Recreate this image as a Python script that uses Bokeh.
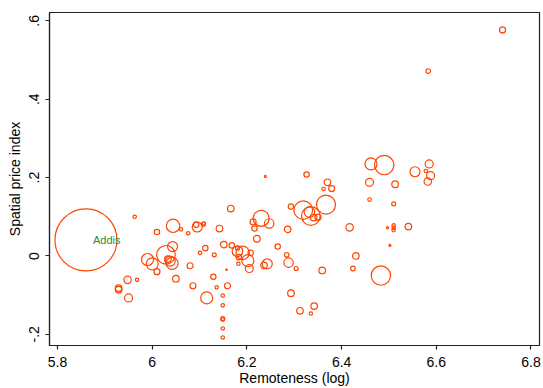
import numpy as np
from bokeh.plotting import figure
from bokeh.models import ColumnDataSource, FixedTicker, Range1d
from bokeh.core.properties import value
from bokeh.embed import file_html
from bokeh.resources import INLINE

# Data
remoteness = [5.860, 6.740, 6.583, 5.963, 6.462, 6.490, 6.459, 6.459, 6.513, 6.555,
              6.585, 6.578, 6.588, 6.582, 6.510, 6.541, 6.497, 6.510, 6.510, 6.510,
              6.502, 6.417, 6.430, 6.424, 6.483, 6.359, 6.326, 6.370, 6.379, 6.362,
              6.367, 6.319, 6.335, 6.332, 6.341, 6.350, 6.293, 6.286, 6.265, 6.284,
              6.288, 6.304, 6.293, 6.312, 6.342, 6.335, 6.239, 6.230, 6.247, 6.213,
              6.216, 6.221, 6.166, 6.142, 6.151, 6.168, 6.180, 6.180, 6.191, 6.208,
              6.202, 6.205, 6.183, 6.182, 6.243, 6.236, 6.157, 6.159, 6.129, 6.136,
              6.115, 6.149, 6.149, 6.149, 6.149, 6.149, 6.149, 6.131, 6.112, 6.101,
              6.095, 6.093, 6.108, 6.109, 6.076, 6.061, 6.044, 6.010, 6.043, 6.029,
              6.033, 6.038, 6.042, 5.990, 6.000, 6.010, 6.050, 6.080, 6.086, 5.948,
              5.968, 5.929, 5.929, 5.950]
price_index = [0.041, 0.577, 0.472, 0.100, 0.235, 0.232, 0.188, 0.144, 0.183, 0.215,
               0.235, 0.217, 0.205, 0.190, 0.133, 0.075, 0.072, 0.078, 0.072, 0.066,
               0.027, 0.073, 0.000, -0.032, -0.050, -0.037, 0.208, 0.188, 0.172, 0.171,
               0.131, 0.117, 0.102, 0.112, 0.098, 0.099, 0.126, 0.068, 0.024, 0.003,
               -0.017, -0.032, -0.095, -0.140, -0.128, -0.147, 0.203, 0.096, 0.083, 0.087,
               0.070, 0.044, 0.121, 0.070, 0.029, 0.027, 0.020, 0.012, 0.008, 0.008,
               -0.012, -0.032, -0.003, -0.020, -0.020, -0.024, -0.035, -0.076, -0.053, -0.080,
               -0.107, -0.101, -0.126, -0.160, -0.162, -0.185, -0.208, 0.003, 0.020, 0.008,
               0.074, 0.080, 0.081, 0.083, 0.058, 0.068, 0.077, 0.061, 0.024, 0.003,
               -0.008, -0.013, -0.019, -0.009, -0.020, -0.040, -0.058, -0.025, -0.076, -0.061,
               -0.061, -0.082, -0.086, -0.107]
weight = [9610, 90, 53, 29, 360, 941, 160, 32, 109, 250,
          160, 29, 160, 137, 40, 109, 12, 29, 29, 29,
          10, 137, 109, 53, 941, 109, 73, 109, 90, 29,
          903, 865, 865, 281, 109, 90, 73, 109, 73, 53,
          221, 40, 109, 109, 109, 29, 10, 640, 221, 90,
          73, 109, 109, 109, 109, 73, 40, 281, 449, 73,
          360, 160, 73, 29, 250, 109, 5, 90, 73, 29,
          360, 29, 29, 40, 29, 29, 29, 40, 73, 29,
          250, 73, 40, 29, 29, 29, 449, 73, 250, 865,
          109, 250, 360, 360, 360, 90, 109, 90, 90, 137,
          29, 109, 109, 160]
labels = ["Addis"] + [""] * (len(remoteness) - 1)

x_ticks = [5.8, 6.0, 6.2, 6.4, 6.6, 6.8]
x_tick_labels = ["5.8", "6", "6.2", "6.4", "6.6", "6.8"]
y_ticks = [-0.2, 0.0, 0.2, 0.4, 0.6]
y_tick_labels = ["-.2", "0", ".2", ".4", ".6"]

diam = [2 * np.sqrt(w / 10.0) for w in weight]
src = ColumnDataSource(dict(x=remoteness, y=price_index, d=diam, lab=labels))

p = figure(width=543, height=388, output_backend="svg", toolbar_location=None,
           x_range=Range1d(5.783, 6.818), y_range=Range1d(-0.2285, 0.6214),
           min_border_left=49, min_border_right=4, min_border_top=12, min_border_bottom=39)
p.background_fill_color = "white"
p.border_fill_color = "white"
p.outline_line_color = "#222222"
p.outline_line_width = 1.2
p.xgrid.visible = False
p.ygrid.visible = False

p.scatter("x", "y", size="d", source=src, marker="circle", fill_color=None,
          line_color="#ff4500", line_width=1.2)

lab_src = ColumnDataSource(dict(x=remoteness[:1], y=price_index[:1], lab=labels[:1]))
p.text("x", "y", text="lab", source=lab_src, x_offset=7, text_baseline="middle",
       text_align="left", text_color="#2d8c2d", text_font=value("Liberation Sans"),
       text_font_size="11px")

for ax in (p.xaxis[0], p.yaxis[0]):
    ax.axis_line_color = "#222222"
    ax.axis_line_width = 1.2
    ax.major_tick_line_color = "#222222"
    ax.major_tick_line_width = 1.2
    ax.major_tick_out = 4
    ax.major_tick_in = 0
    ax.minor_tick_out = 0
    ax.minor_tick_in = 0
    ax.major_label_text_font = "Liberation Sans"
    ax.major_label_text_font_size = "14px"
    ax.major_label_text_color = "black"
    ax.axis_label_text_font = "Liberation Sans"
    ax.axis_label_text_font_size = "14px"
    ax.axis_label_text_font_style = "normal"
    ax.axis_label_text_color = "black"

p.xaxis.ticker = FixedTicker(ticks=x_ticks)
p.xaxis.major_label_overrides = dict(zip(x_ticks, x_tick_labels))
p.yaxis.ticker = FixedTicker(ticks=y_ticks)
p.yaxis.major_label_overrides = dict(zip(y_ticks, y_tick_labels))
p.yaxis.major_label_orientation = "vertical"
p.xaxis.axis_label = "Remoteness (log)"
p.yaxis.axis_label = "Spatial price index"
p.xaxis.major_label_standoff = 7
p.xaxis.axis_label_standoff = 0
p.yaxis.major_label_standoff = 6
p.yaxis.axis_label_standoff = 4

open("out.html", "w").write(file_html(p, INLINE))
